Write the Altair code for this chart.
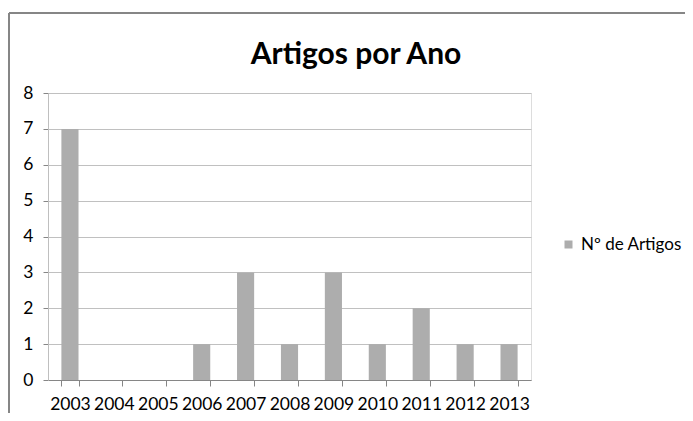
import altair as alt
import pandas as pd

years = ["2003", "2004", "2005", "2006", "2007", "2008", "2009", "2010", "2011", "2012", "2013"]
artigos = [7, 0, 0, 1, 3, 1, 3, 1, 2, 1, 1]
series = ["Nº de Artigos"] * len(years)
titulo = ["Artigos por Ano"]

df = pd.DataFrame({"Ano": years, "Artigos": artigos, "Serie": series})
df_title = pd.DataFrame({"t": titulo})

FONT = "Lato"
GRAY = "#ADADAD"

bars = alt.Chart(df).mark_bar(color=GRAY).encode(
    x=alt.X("Ano:N", sort=years, title=None,
            scale=alt.Scale(paddingInner=0.61, paddingOuter=0.305),
            axis=alt.Axis(labelAngle=0, labelFontSize=17.5, labelFont=FONT, labelColor="#000000",
                          tickBand="extent", tickSize=6, tickColor="#868686",
                          domainColor="#868686", labelPadding=9, grid=False)),
    y=alt.Y("Artigos:Q", title=None,
            scale=alt.Scale(domain=[0, 8]),
            axis=alt.Axis(values=list(range(9)), labelFontSize=17.5, labelFont=FONT, labelColor="#000000",
                          tickSize=5, tickColor="#868686", domainColor="#BFBFBF",
                          gridColor="#C0C0C0", labelPadding=10)),
    fill=alt.Fill("Serie:N", scale=alt.Scale(range=[GRAY]),
                  legend=alt.Legend(title=None, orient="none", legendX=512, legendY=143,
                                    symbolType="square", symbolSize=64, symbolStrokeWidth=0,
                                    labelFontSize=17, labelFont=FONT, labelColor="#000000",
                                    padding=0, symbolOffset=0, labelOffset=4)),
)

title_text = alt.Chart(df_title).mark_text(
    font=FONT, fontSize=30, fontWeight="bold", color="#000000", align="center", baseline="alphabetic"
).encode(text="t:N", x=alt.value(308), y=alt.value(-29))

border_left = alt.Chart(df_title).mark_rule(color="#868686", strokeWidth=2).encode(
    x=alt.value(-39), y=alt.value(-80), y2=alt.value(330)
)
border_top = alt.Chart(df_title).mark_rule(color="#868686", strokeWidth=2).encode(
    x=alt.value(-39), x2=alt.value(700), y=alt.value(-80)
)

chart = alt.layer(bars, title_text, border_left, border_top).properties(
    width=483, height=287,
    autosize=alt.AutoSizeParams(type="none"),
    padding={"left": 40, "top": 85, "right": 154, "bottom": 33},
).configure_view(stroke=None).configure(background="#FFFFFF")

chart.save("out.html", embed_options={"renderer": "svg", "actions": False})
